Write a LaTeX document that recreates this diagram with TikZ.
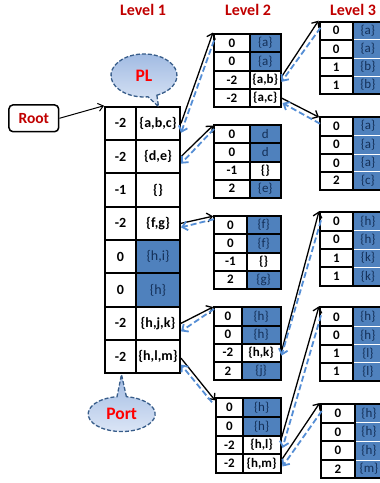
\documentclass[tikz,border=0pt]{standalone}
\usepackage{fontspec}
\setmainfont{Carlito}
\usetikzlibrary{arrows.meta,calc}
\definecolor{cblue}{RGB}{79,129,189}
\definecolor{navy}{RGB}{20,48,88}
\definecolor{dred}{RGB}{192,0,0}
\definecolor{lblue}{RGB}{85,142,213}
\definecolor{cline}{RGB}{56,93,138}
\definecolor{ctop}{RGB}{160,186,226}
\definecolor{cbot}{RGB}{220,230,246}
\newcommand\tsize{\fontsize{13}{14}\selectfont}
\tikzset{
 vcell/.style={draw=black, line width=2pt, fill=white, inner sep=0pt, font={\tsize\bfseries}, text=black},
 wcell/.style={vcell},
 bcell/.style={vcell, fill=cblue, font={\tsize}, text=navy},
 ccell/.style={bcell, draw=white, line width=1pt},
 blk/.style={draw=black, line width=1.3pt, -{Straight Barb[length=5pt,width=9pt]}},
 blu/.style={draw=lblue, line width=1.8pt, dash pattern=on 6pt off 3pt, -{Straight Barb[length=5pt,width=9pt]}},
 lvl/.style={text=dred, font=\fontsize{16}{18}\selectfont\bfseries, inner sep=0pt},
 callout/.style={draw=cline, line width=1.3pt, dash pattern=on 4pt off 2pt, top color=ctop, bottom color=cbot},
 frame/.style={draw=black, line width=2pt},
}
% name, xl, xm, xr, ytop, ybot, value, set, set-style
\newcommand\drow[9]{%
 \node[#9, minimum width={#4-#3}, minimum height={#6-#5}] (#1s) at ({(#3+#4)/2},{(#5+#6)/2}) {#8};
 \node[vcell, minimum width={#3-#2}, minimum height={#6-#5}] (#1v) at ({(#2+#3)/2},{(#5+#6)/2}) {#7};
}
\begin{document}
\begin{tikzpicture}[x=1pt,y=-1pt]
\useasboundingbox (0,0) rectangle (380,483);
\clip (0,0) rectangle (380,483);

% level labels
\node[lvl] (lv1) at (143,10) {Level 1};
\node[lvl] (lv2) at (248,10) {Level 2};
\node[lvl] (lv3) at (353,10) {Level 3};

% Level 1
\renewcommand\tsize{\fontsize{14}{15}\selectfont}
\drow{La}{105}{136}{180}{106.7}{140.0}{-2}{\{a,b,c\}}{wcell}
\drow{Lb}{105}{136}{180}{140.0}{173.3}{-2}{\{d,e\}}{wcell}
\drow{Lc}{105}{136}{180}{173.3}{206.7}{-1}{\{\}}{wcell}
\drow{Ld}{105}{136}{180}{206.7}{240.0}{-2}{\{f,g\}}{wcell}
\drow{Le}{105}{136}{180}{240.0}{273.3}{0}{\{h,i\}}{bcell}
\drow{Lf}{105}{136}{180}{273.3}{306.7}{0}{\{h\}}{bcell}
\drow{Lg}{105}{136}{180}{306.7}{340.0}{-2}{\{h,j,k\}}{wcell}
\drow{Lh}{105}{136}{180}{340.0}{373.3}{-2}{\{h,l,m\}}{wcell}
\renewcommand\tsize{\fontsize{13}{14}\selectfont}

% Level 2
\drow{Aa}{214}{250}{280.5}{33.5}{52.3}{0}{\{a\}}{bcell}
\drow{Ab}{214}{250}{280.5}{52.3}{70.7}{0}{\{a\}}{bcell}
\drow{Ac}{214}{250}{280.5}{70.7}{89.0}{-2}{\{a,b\}}{wcell}
\drow{Ad}{214}{250}{280.5}{89.0}{107.0}{-2}{\{a,c\}}{wcell}

\drow{Ba}{214}{250}{280.5}{125.0}{143.3}{0}{d}{bcell}
\drow{Bb}{214}{250}{280.5}{143.3}{161.7}{0}{d}{bcell}
\drow{Bc}{214}{250}{280.5}{161.7}{179.5}{-1}{\{\}}{wcell}
\drow{Bd}{214}{250}{280.5}{179.5}{197.7}{2}{\{e\}}{bcell}

\drow{Ca}{214}{246.7}{280.5}{215.7}{234.3}{0}{\{f\}}{bcell}
\drow{Cb}{214}{246.7}{280.5}{234.3}{252.5}{0}{\{f\}}{bcell}
\drow{Cc}{214}{246.7}{280.5}{252.5}{270.5}{-1}{\{\}}{wcell}
\drow{Cd}{214}{246.7}{280.5}{270.5}{288.5}{2}{\{g\}}{bcell}

\drow{Da}{214}{241.7}{280.5}{307.0}{325.5}{0}{\{h\}}{bcell}
\drow{Db}{214}{241.7}{280.5}{325.5}{343.5}{0}{\{h\}}{bcell}
\drow{Dc}{214}{241.7}{280.5}{343.5}{361.7}{-2}{\{h,k\}}{wcell}
\drow{Dd}{214}{241.7}{280.5}{361.7}{380.0}{2}{\{j\}}{bcell}

\drow{Ea}{216}{242.7}{280.5}{398.3}{417.0}{0}{\{h\}}{bcell}
\drow{Eb}{216}{242.7}{280.5}{417.0}{435.7}{0}{\{h\}}{bcell}
\drow{Ec}{216}{242.7}{280.5}{435.7}{454.3}{-2}{\{h,l\}}{wcell}
\drow{Ed}{216}{242.7}{280.5}{454.3}{472.7}{-2}{\{h,m\}}{wcell}

% Level 3
\drow{Pa}{319.5}{352.7}{383}{21.7}{39.7}{0}{\{a\}}{ccell}
\drow{Pb}{319.5}{352.7}{383}{39.7}{58.0}{0}{\{a\}}{ccell}
\drow{Pc}{319.5}{352.7}{383}{58.0}{76.0}{1}{\{b\}}{ccell}
\drow{Pd}{319.5}{352.7}{383}{76.0}{94.0}{1}{\{b\}}{ccell}
\draw[frame] (319.5,21.7) rectangle (383,94);

\drow{Qa}{320}{353}{383}{116.7}{135.5}{0}{\{a\}}{ccell}
\drow{Qb}{320}{353}{383}{135.5}{154.0}{0}{\{a\}}{ccell}
\drow{Qc}{320}{353}{383}{154.0}{171.7}{0}{\{a\}}{ccell}
\drow{Qd}{320}{353}{383}{171.7}{189.5}{2}{\{c\}}{ccell}
\draw[frame] (320,116.7) rectangle (383,189.5);

\drow{Ra}{320}{353}{383}{212.3}{230.5}{0}{\{h\}}{ccell}
\drow{Rb}{320}{353}{383}{230.5}{249.0}{0}{\{h\}}{ccell}
\drow{Rc}{320}{353}{383}{249.0}{267.3}{1}{\{k\}}{ccell}
\drow{Rd}{320}{353}{383}{267.3}{285.7}{1}{\{k\}}{ccell}
\draw[frame] (320,212.3) rectangle (383,285.7);

\drow{Sa}{320}{352.7}{383}{307.3}{326.3}{0}{\{h\}}{ccell}
\drow{Sb}{320}{352.7}{383}{326.3}{344.7}{0}{\{h\}}{ccell}
\drow{Sc}{320}{352.7}{383}{344.7}{362.7}{1}{\{l\}}{ccell}
\drow{Sd}{320}{352.7}{383}{362.7}{380.5}{1}{\{l\}}{ccell}
\draw[frame] (320,307.3) rectangle (383,380.5);

\drow{Ua}{320.7}{355}{383}{404.0}{422.7}{0}{\{h\}}{ccell}
\drow{Ub}{320.7}{355}{383}{422.7}{441.3}{0}{\{h\}}{ccell}
\drow{Uc}{320.7}{355}{383}{441.3}{460.0}{0}{\{h\}}{ccell}
\drow{Ud}{320.7}{355}{383}{460.0}{478.3}{2}{\{m\}}{ccell}
\draw[frame] (320.7,404) rectangle (383,478.3);

% Root
\node[draw=black, rounded corners=4pt, line width=1.5pt, minimum width=49.7, minimum height=26.7, inner sep=0pt, text=dred, font=\fontsize{15.5}{17}\selectfont\bfseries] (root) at (33.8,118.3) {Root};
\draw[line width=1pt, -{Straight Barb[length=5pt,width=8pt]}] (root.east) -- (Lav.north west);

% callouts
\path[callout] (156.9,95.3) -- (158.5,106.5) -- (148.0,96.8) arc[start angle=83, end angle=427, x radius=33, y radius=21.5] -- cycle;
\node[text=red, font=\fontsize{17.5}{19}\selectfont\bfseries, inner sep=0pt] (pl) at (144,75.5) {PL};
\path[callout] (126.4,396.7) -- (121.5,374.5) -- (117.0,396.7) arc[start angle=262, end angle=-82, x radius=33.5, y radius=17.5] -- cycle;
\node[text=red, font=\fontsize{17.5}{19}\selectfont\bfseries, inner sep=0pt] (port) at (121.7,414) {Port};

% Level 1 -> Level 2
\draw[blk] (Las.east) -- (Aav.north west);
\draw[blu] ([shift={(1,8)}]Aav.north west) -- ([shift={(0,9.5)}]Las.east);
\draw[blk] (Lbs.east) -- ([shift={(0,1.5)}]Bav.north west);
\draw[blu] ([shift={(1,5)}]Bav.north west) -- ([shift={(0,7)}]Lbs.east);
\draw[blk] (Lds.east) -- ([shift={(0,1.5)}]Cav.north west);
\draw[blu] ([shift={(1,4.5)}]Cav.north west) -- ([shift={(0,4)}]Lds.east);
\draw[blk] (Lgs.east) -- ([shift={(0,1)}]Dav.north west);
\draw[blu] ([shift={(1,3)}]Dav.north west) -- ([shift={(0,8)}]Lgs.east);
\draw[blk] ([shift={(0,1.5)}]Lhs.east) -- ([shift={(0,3)}]Eav.north west);
\draw[blu] ([shift={(-3,5)}]Eav.north west) -- ([shift={(0,8)}]Lhs.east);

% Level 2 -> Level 3
\draw[blk] ([shift={(0,-3)}]Acs.east) -- (Pav.north west);
\draw[blu] ([shift={(2,7)}]Pav.north west) -- ([shift={(0,2)}]Acs.east);
\draw[blk] (Ads.east) -- ([shift={(0,1.5)}]Qav.north west);
\draw[blu] ([shift={(1,8)}]Qav.north west) -- ([shift={(1,5)}]Ads.east);
\draw[blk] ([shift={(0,-1)}]Dcs.east) -- (Rav.north west);
\draw[blu] ([shift={(2,9)}]Rav.north west) -- ([shift={(0,3)}]Dcs.east);
\draw[blk] ([shift={(0,-7)}]Ecs.east) -- (Sav.north west);
\draw[blu] ([shift={(2,9)}]Sav.north west) -- ([shift={(1,3)}]Ecs.east);
\draw[blk] ([shift={(0,-3.5)}]Eds.east) -- (Uav.north west);
\draw[blu] ([shift={(2,8)}]Uav.north west) -- ([shift={(1,3)}]Eds.east);
\end{tikzpicture}
\end{document}
